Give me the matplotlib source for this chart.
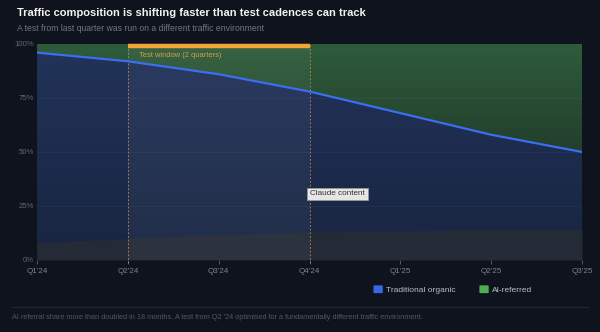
import numpy as np
import matplotlib
matplotlib.use("Agg")
import matplotlib.pyplot as plt
from matplotlib.colors import LinearSegmentedColormap
from matplotlib.patches import FancyBboxPatch

plt.rcParams['font.family'] = ['Liberation Sans', 'DejaVu Sans']

quarters = ["Q1'24", "Q2'24", "Q3'24", "Q4'24", "Q1'25", "Q2'25", "Q3'25"]
traditional = [96, 92, 86, 78, 68, 58, 50]        # % share, traditional organic
other_base = [8, 10, 11.5, 13, 13.5, 14, 14]       # muted base layer
y_ticks = [0, 25, 50, 75, 100]
y_tick_labels = ["0%", "25%", "50%", "75%", "100%"]
test_start, test_end = 1, 3

BG = "#0f131d"
x = np.arange(len(quarters))
trad = np.array(traditional, dtype=float)
base = np.array(other_base, dtype=float)

fig = plt.figure(figsize=(6.0, 3.32), dpi=100, facecolor=BG)
ax = fig.add_axes([0.0617, 0.2169, 0.9083, 0.6506])
ax.set_facecolor("#121826")
ax.set_xlim(0, len(quarters) - 1)
ax.set_ylim(0, 100)


def gradient_fill(ax, x, lo, hi, c_top, c_bot, z):
    poly = ax.fill_between(x, lo, hi, color="none", lw=0, zorder=z)
    cmap = LinearSegmentedColormap.from_list("g", [c_bot, c_top])
    grad = np.linspace(0, 1, 256).reshape(-1, 1)
    im = ax.imshow(grad, cmap=cmap, aspect="auto", origin="lower",
                   extent=[x[0], x[-1], 0, 100], zorder=z)
    path = poly.get_paths()[0]
    im.set_clip_path(path, transform=ax.transData)
    return im


# AI-referred area (line up to 100%)
gradient_fill(ax, x, trad, np.full_like(trad, 100), "#2e5c3b", "#16211d", 1)
# Traditional organic area (0 up to line)
gradient_fill(ax, x, np.zeros_like(trad), trad, "#22335a", "#182541", 1)
# muted base band
ax.fill_between(x, 0, base, color="#242a36", lw=0, zorder=2)

# highlight of the test window
ax.axvspan(test_start, test_end, color="#ffffff", alpha=0.045, lw=0, zorder=3)

# gridlines
for v in (25, 50, 75):
    ax.axhline(v, color="#ffffff", alpha=0.035, lw=0.8, zorder=3)

# traditional organic line
ax.plot(x, trad, color="#3b6ef0", lw=1.6, zorder=5)

# test window markers
for q in (test_start, test_end):
    ax.plot([q, q], [-1.6, 100], color="#c89a55", lw=0.6, ls=(0, (2.2, 2.2)),
            alpha=0.85, zorder=4, clip_on=False)
ax.plot([test_start, test_end], [99.0, 99.0], color="#f0a535", lw=3.2,
        solid_capstyle="butt", zorder=6, clip_on=False)
ax.text(test_start + 0.12, 94.5, "Test window (2 quarters)", color="#d9a040",
        fontsize=5.4, va="center", ha="left", zorder=7)

# callout label
ax.text(test_end + 0.005, 30.6, "Claude content", fontsize=5.9, color="#333333",
        va="center", ha="left", zorder=8,
        bbox=dict(boxstyle="square,pad=0.35", fc="#e6e6e6", ec="#9a9a9a", lw=0.5))

# axes styling
for s in ax.spines.values():
    s.set_visible(False)
ax.set_xticks(x)
ax.set_xticklabels(quarters)
ax.set_yticks(y_ticks)
ax.set_yticklabels(y_tick_labels)
ax.tick_params(axis="x", colors="#5a6272", labelcolor="#7a8290", labelsize=5.8,
               length=3, width=0.6, pad=2.5)
ax.tick_params(axis="y", length=0, labelcolor="#5e6674", labelsize=5.6, pad=2)

# titles
fig.text(0.028, 0.962, "Traffic composition is shifting faster than test cadences can track",
         color="#f2f2f2", fontsize=8.0, fontweight="bold", va="center", ha="left")
fig.text(0.028, 0.914, "A test from last quarter was run on a different traffic environment",
         color="#6f7684", fontsize=6.2, va="center", ha="left")

# legend
for (lx, tx, color, label) in [(0.6225, 0.6435, "#3a66e8", "Traditional organic"),
                               (0.799, 0.820, "#4caf50", "AI-referred")]:
    fig.patches.append(FancyBboxPatch((lx, 0.117), 0.0155, 0.0235,
                                      boxstyle="round,pad=0,rounding_size=0.002",
                                      transform=fig.transFigure, fc=color, ec="none"))
    fig.text(tx, 0.126, label, color="#b8bec8", fontsize=6.0, va="center", ha="left")

# footer
fig.add_artist(plt.Line2D([0.02, 0.98], [0.076, 0.076], transform=fig.transFigure,
                          color="#1f2736", lw=0.8))
fig.text(0.02, 0.045,
         "AI referral share more than doubled in 18 months. A test from Q2 '24 optimised "
         "for a fundamentally different traffic environment.",
         color="#4f5665", fontsize=5.3, va="center", ha="left")

fig.savefig("out.png", dpi=100, facecolor=BG)
